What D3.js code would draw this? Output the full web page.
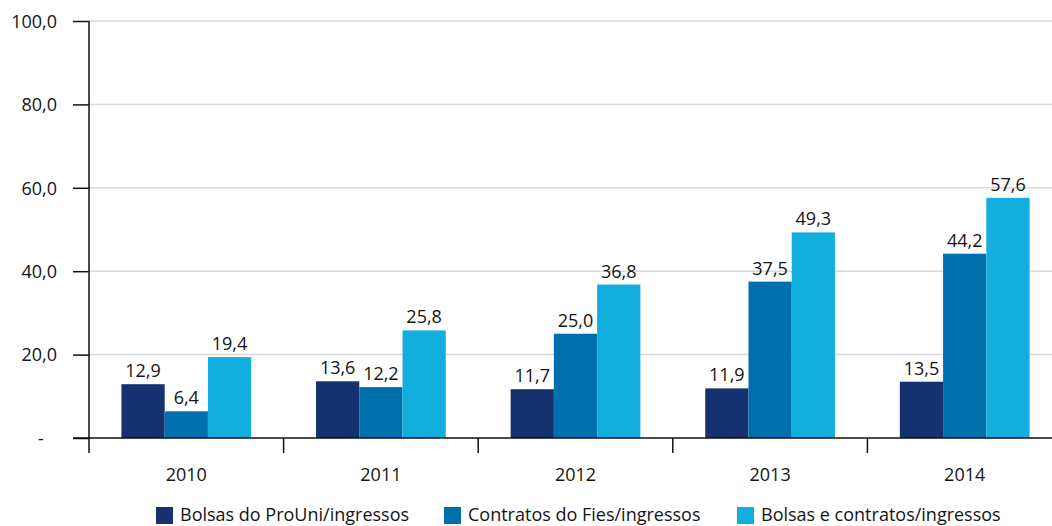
<!DOCTYPE html>
<html><head><meta charset="utf-8">
<script src="https://cdn.jsdelivr.net/npm/d3@7"></script>
<style>body{margin:0;background:#fff}svg{display:block}text{font-family:"Open Sans",sans-serif;fill:#141414}</style>
</head><body><svg id="c" width="1052" height="526"></svg>
<script>
const years = ["2010","2011","2012","2013","2014"];
const seriesNames = ["Bolsas do ProUni/ingressos","Contratos do Fies/ingressos","Bolsas e contratos/ingressos"];
const prouni = [12.9, 13.6, 11.7, 11.9, 13.5];
const fies = [6.4, 12.2, 25.0, 37.5, 44.2];
const total = [19.4, 25.8, 36.8, 49.3, 57.6];
const yTicks = [0, 20, 40, 60, 80, 100];
const colors = ["#15316f", "#0070ad", "#12afde"];

const series = [prouni, fies, total];
const svg = d3.select("#c");
const fmt = v => v === 0 ? "-" : d3.format(".1f")(v).replace(".", ",");
const FS = 18;

const x0 = d3.scaleBand().domain(years).range([89, 1062]).paddingInner(1/3).paddingOuter(1/6);
const x1 = d3.scaleBand().domain(d3.range(3)).range([0, x0.bandwidth()]);
const y = d3.scaleLinear().domain([0, 100]).range([438, 21]);

// gridlines
svg.append("g").selectAll("line").data(yTicks.filter(d => d > 0)).join("line")
  .attr("x1", 89).attr("x2", 1052).attr("y1", d => y(d)).attr("y2", d => y(d))
  .attr("stroke", "#d9d9d9").attr("stroke-width", 1.5);

// y axis
const ya = svg.append("g").attr("transform", "translate(89,0)")
  .call(d3.axisLeft(y).tickValues(yTicks).tickSize(16).tickPadding(16).tickFormat(fmt));
ya.select(".domain").attr("stroke", "#111").attr("stroke-width", 1.5).attr("d", `M0,${y(100)}V${y(0)}`);
ya.selectAll(".tick line").attr("stroke", "#111").attr("stroke-width", 1.5);
ya.selectAll(".tick text").attr("font-size", FS).attr("font-family", "Open Sans").attr("fill", "#141414").attr("dy", "0.35em");
ya.selectAll(".tick").filter(d => d === 0).select("text").attr("text-anchor", "middle").attr("x", -48);

// bars
const g = svg.append("g");
years.forEach((yr, i) => {
  series.forEach((s, j) => {
    const bx = x0(yr) + x1(j);
    g.append("rect").attr("x", bx).attr("width", x1.bandwidth())
      .attr("y", y(s[i])).attr("height", y(0) - y(s[i])).attr("fill", colors[j]);
    g.append("text").attr("x", bx + x1.bandwidth() / 2).attr("y", y(s[i]) - 7)
      .attr("text-anchor", "middle").attr("font-size", FS).text(fmt(s[i]));
  });
});

// x axis
const xa = svg.append("g").attr("transform", `translate(0,${y(0)})`);
xa.append("line").attr("x1", 73).attr("x2", 1052).attr("stroke", "#111").attr("stroke-width", 1.5);
const step = x0.step();
xa.selectAll(".xt").data(years).join("line").attr("class", "xt")
  .attr("x1", d => x0(d) - step / 6).attr("x2", d => x0(d) - step / 6)
  .attr("y1", 0).attr("y2", 15).attr("stroke", "#111").attr("stroke-width", 1.5);
xa.selectAll(".xl").data(years).join("text").attr("class", "xl")
  .attr("x", d => x0(d) + x0.bandwidth() / 2).attr("y", 43)
  .attr("text-anchor", "middle").attr("font-size", FS).text(d => d);

// legend
const legX = [156, 444, 737];
const leg = svg.append("g");
seriesNames.forEach((n, j) => {
  leg.append("rect").attr("x", legX[j]).attr("y", 507).attr("width", 17).attr("height", 17).attr("fill", colors[j]);
  leg.append("text").attr("x", legX[j] + 24).attr("y", 521).attr("font-size", FS).text(n);
});
</script></body></html>
